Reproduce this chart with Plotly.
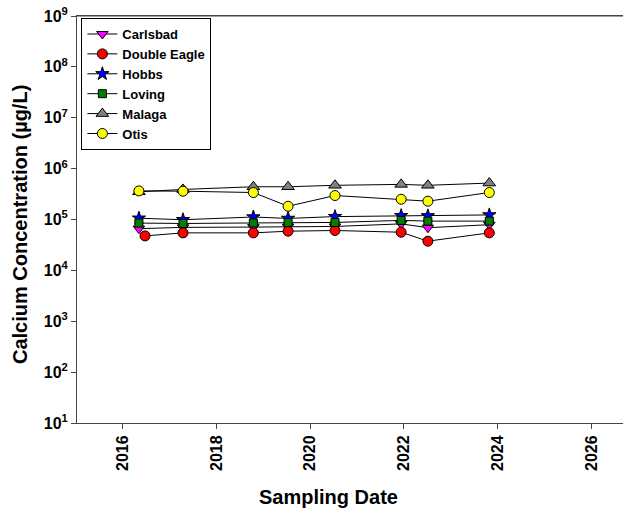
import plotly.graph_objects as go

dates = [2016.35, 2017.29, 2018.79, 2019.53, 2020.53, 2021.94, 2022.51, 2023.82]
dates_de = [2016.48, 2017.29, 2018.79, 2019.53, 2020.53, 2021.94, 2022.51, 2023.82]

carlsbad = [6.6e4, 7.0e4, 7.1e4, 7.2e4, 7.3e4, 8.2e4, 6.9e4, 7.9e4]
double_eagle = [4.76e4, 5.46e4, 5.46e4, 5.89e4, 6.08e4, 5.62e4, 3.75e4, 5.46e4]
hobbs = [1.06e5, 0.99e5, 1.12e5, 1.05e5, 1.14e5, 1.19e5, 1.18e5, 1.23e5]
loving = [8.5e4, 8.35e4, 8.55e4, 8.7e4, 8.75e4, 9.6e4, 9.3e4, 9.3e4]
malaga = [3.5e5, 3.9e5, 4.4e5, 4.4e5, 4.7e5, 4.9e5, 4.7e5, 5.2e5]
otis = [3.65e5, 3.6e5, 3.39e5, 1.82e5, 2.96e5, 2.5e5, 2.29e5, 3.39e5]

series = [
    ("Carlsbad", dates, carlsbad, "#FF00FF", "triangle-down", 10),
    ("Double Eagle", dates_de, double_eagle, "#FF0000", "circle", 10),
    ("Hobbs", dates, hobbs, "#0000FF", "star", 10),
    ("Loving", dates, loving, "#008000", "square", 8),
    ("Malaga", dates, malaga, "#808080", "triangle-up", 11),
    ("Otis", dates, otis, "#FFFF00", "circle", 10),
]

x_ticks = [2016, 2018, 2020, 2022, 2024, 2026]
y_ticks = [10, 100, 1e3, 1e4, 1e5, 1e6, 1e7, 1e8, 1e9]
y_ticktext = [f"<b>10<sup>{i}</sup></b>" for i in range(1, 10)]

fig = go.Figure()
for name, xs, ys, color, sym, sz in series:
    fig.add_trace(go.Scatter(
        x=xs, y=ys, name=f"<b>{name}</b>", mode="lines+markers",
        line=dict(color="black", width=1),
        marker=dict(symbol=sym, size=sz, color=color,
                    line=dict(color="black", width=1)),
    ))

W, H = 624, 514
L, T = 77, 16
R = W - 623
B = H - 423
fig.update_layout(
    width=W, height=H,
    margin=dict(l=L, r=R, t=T, b=B, autoexpand=False),
    paper_bgcolor="white", plot_bgcolor="white",
    font=dict(family="Liberation Sans, Arial", color="black"),
    showlegend=True,
    legend=dict(
        x=0.008, y=0.995, xanchor="left", yanchor="top",
        bordercolor="black", borderwidth=1, bgcolor="white",
        font=dict(size=13, family="Liberation Sans, Arial"),
        itemwidth=30, tracegroupgap=0,
    ),
)
fig.update_xaxes(
    range=[2015.03, 2026.67], tickvals=x_ticks,
    ticktext=[f"<b>{t}</b>" for t in x_ticks],
    tickangle=-90, tickfont=dict(size=16),
    ticks="outside", ticklen=5, tickcolor="#444",
    showline=True, linecolor="#444", linewidth=1, mirror=True,
    showgrid=False, zeroline=False, automargin=False,
    ticklabeloverflow="allow",
)
fig.update_yaxes(
    type="log", range=[1, 9], tickvals=y_ticks, ticktext=y_ticktext,
    tickfont=dict(size=16),
    ticks="outside", ticklen=5, tickcolor="#444",
    showline=True, linecolor="#444", linewidth=1, mirror=False,
    showgrid=False, zeroline=False, automargin=False,
    ticklabeloverflow="allow",
)

# top frame line
fig.add_shape(type="line", xref="paper", yref="paper", x0=0, x1=1, y0=1, y1=1,
              line=dict(color="#444", width=1), layer="above")

pw = W - L - R
ph = H - T - B
fig.add_annotation(
    text="<b>Sampling Date</b>", xref="paper", yref="paper",
    x=(328 - L) / pw, y=-(497 - (H - B)) / ph,
    xanchor="center", yanchor="middle", showarrow=False,
    font=dict(size=20),
)
fig.add_annotation(
    text="<b>Calcium Concentration (µg/L)</b>", xref="paper", yref="paper",
    x=-(L - 20) / pw, y=1 - (225 - T) / ph, textangle=-90,
    xanchor="center", yanchor="middle", showarrow=False,
    font=dict(size=20),
)

fig.write_html(
    "out.html",
    config={"displayModeBar": False},
    post_script="document.body.style.margin='0';document.body.style.overflow='hidden';",
)
